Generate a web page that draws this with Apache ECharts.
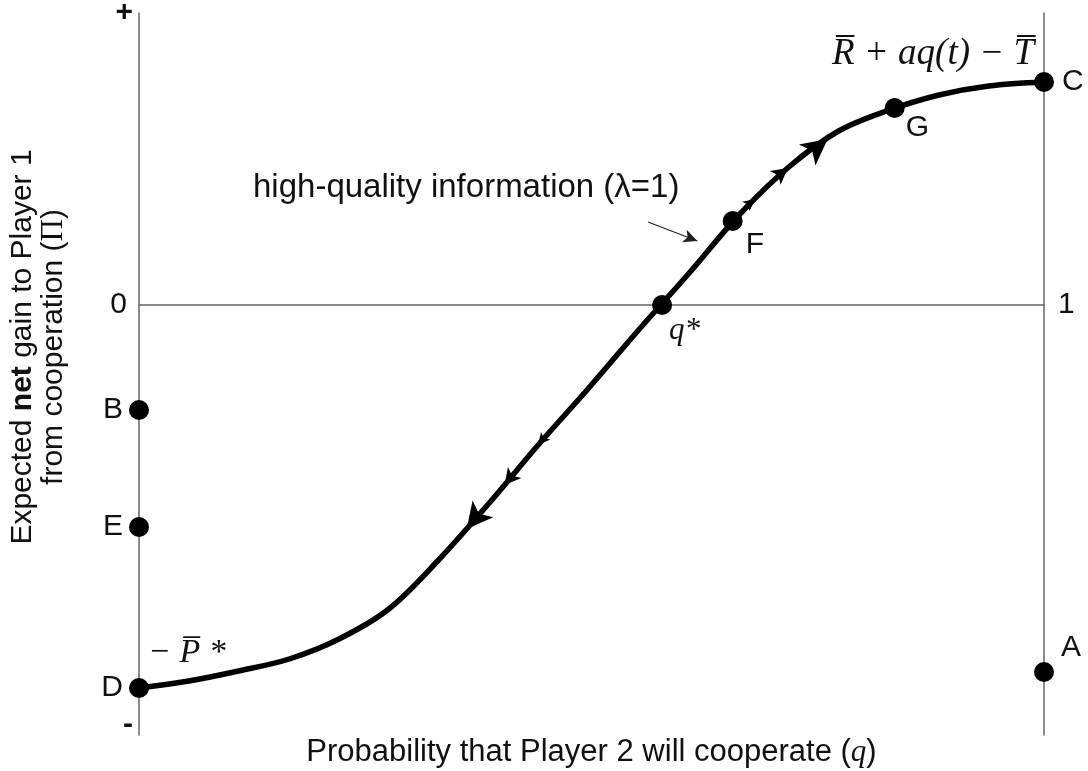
<!DOCTYPE html>
<html>
<head>
<meta charset="utf-8">
<script src="https://cdn.jsdelivr.net/npm/echarts@6/dist/echarts.min.js"></script>
<style>
  html, body { margin: 0; padding: 0; background: #fff; }
  #main { width: 1088px; height: 771px; }
</style>
</head>
<body>
<div id="main"></div>
<script>
// 曲线 (q, 净收益)
const curveQ = [0, 0.055, 0.110, 0.166, 0.221, 0.276, 0.331, 0.387, 0.442, 0.497, 0.552, 0.608, 0.663, 0.718, 0.773, 0.829, 0.884, 0.939, 1]
const curveY = [-3.83, -3.76, -3.66, -3.54, -3.34, -3.04, -2.55, -1.98, -1.39, -0.83, -0.25, 0.32, 0.90, 1.38, 1.74, 1.95, 2.10, 2.19, 2.23]

// 标记点
const pointNames = ['A', 'B', 'C', 'D', 'E', 'F', 'G', 'q*']
const pointQ = [1, 0, 1, 0, 0, 0.656, 0.835, 0.578]
const pointY = [-3.67, -1.05, 2.23, -3.83, -2.22, 0.84, 1.97, 0]

// 箭头 (位置 + 大小)
const arrowQ = [0.362, 0.404, 0.441, 0.681, 0.717, 0.761]
const arrowY = [-2.24, -1.80, -1.40, 1.06, 1.37, 1.66]
const arrowScale = [3, 2, 1, 1, 2, 3]
const arrowDown = [true, true, true, false, false, false]

const yMin = -4.3
const yMax = 2.92

const serif = '"Liberation Serif", "DejaVu Serif", serif'
const sans = '"Liberation Sans", Arial, sans-serif'

const chart = echarts.init(document.getElementById('main'))

// 点标签位置
const labelPlace = {
    'A': { position: 'right', offset: [2, -24] },
    'B': { position: 'left', distance: 6 },
    'C': { position: 'right', distance: 8 },
    'D': { position: 'left', distance: 6 },
    'E': { position: 'left', distance: 6 },
    'F': { position: 'right', offset: [-2, 24] },
    'G': { position: 'right', offset: [-4, 20] },
    'q*': { position: 'right', offset: [-8, 26], fontFamily: serif, fontStyle: 'italic', fontSize: 31 }
}

const arrowSizes = { 1: [9, 12], 2: [13, 16], 3: [20, 26] }

const option = {
    animation: false,
    grid: { left: 139, right: 44, top: 13, bottom: 36, containLabel: false, outerBoundsMode: 'none' },
    xAxis: [{
        type: 'value', min: 0, max: 1,
        axisLine: { onZero: true, lineStyle: { color: '#666', width: 1.5 } },
        axisTick: { show: false }, axisLabel: { show: false }, splitLine: { show: false }
    }, {
        type: 'value', min: 0, max: 1, position: 'bottom',
        axisLine: { show: false }, axisTick: { show: false }, axisLabel: { show: false }, splitLine: { show: false },
        name: 'Probability that Player 2 will cooperate ({i|q})',
        nameLocation: 'middle', nameGap: 2,
        nameTextStyle: {
            color: '#111', fontFamily: sans, fontSize: 31,
            rich: { i: { fontFamily: serif, fontStyle: 'italic', fontSize: 31, color: '#111' } }
        }
    }],
    yAxis: [{
        type: 'value', min: yMin, max: yMax, position: 'left',
        axisLine: { show: true, onZero: false, lineStyle: { color: '#666', width: 1.5 } },
        axisTick: { show: false }, splitLine: { show: false },
        axisLabel: {
            customValues: [-4.2, 0, 2.92], margin: 6,
            formatter: (v) => v > 1 ? '{p|+}' : (v < -1 ? '{p|-}' : '{z|0}'),
            rich: {
                p: { fontFamily: sans, fontSize: 30, fontWeight: 'bold', color: '#111', padding: [0, 0, 0, 0] },
                z: { fontFamily: sans, fontSize: 30, color: '#111', padding: [0, 6, 0, 0] }
            }
        },
        name: 'Expected {b|net} gain to Player 1\nfrom cooperation ({s|Π})',
        nameLocation: 'middle', nameRotate: 90, nameGap: 70,
        nameTextStyle: {
            color: '#111', fontFamily: sans, fontSize: 30, lineHeight: 31, align: 'center',
            padding: [0, 0, 0, 54],
            rich: {
                b: { fontWeight: 'bold', fontFamily: sans, fontSize: 30, color: '#111', lineHeight: 31 },
                s: { fontFamily: serif, fontSize: 31, color: '#111', lineHeight: 31 }
            }
        }
    }, {
        type: 'value', min: yMin, max: yMax, position: 'right',
        axisLine: { show: true, onZero: false, lineStyle: { color: '#666', width: 1.5 } },
        axisTick: { show: false }, splitLine: { show: false },
        axisLabel: {
            customValues: [0], margin: 14,
            formatter: () => '1',
            fontFamily: sans, fontSize: 30, color: '#111'
        }
    }],
    series: [{
        name: 'curve',
        type: 'line',
        smooth: 0.35,
        symbol: 'none',
        lineStyle: { color: '#000', width: 5.5 },
        data: curveQ.map((q, i) => [q, curveY[i]]),
        z: 3,
        markLine: {
            silent: true,
            symbol: ['none', 'arrow'],
            symbolSize: [10, 14],
            lineStyle: { color: '#222', width: 1.2, type: 'solid' },
            label: { show: false },
            data: [[{ coord: [0.5625, 0.83] }, { coord: [0.617, 0.64] }]]
        }
    }, {
        name: 'arrows',
        type: 'scatter',
        z: 4,
        data: arrowQ.map((q, i) => ({
            value: [q, arrowY[i]],
            symbol: 'arrow',
            symbolSize: arrowSizes[arrowScale[i]],
            symbolRotate: arrowDown[i] ? 141 : -52,
            itemStyle: { color: '#000', opacity: 1 }
        }))
    }, {
        name: 'points',
        type: 'scatter',
        symbol: 'circle',
        symbolSize: 20,
        z: 5,
        itemStyle: { color: '#000', opacity: 1 },
        data: pointNames.map((n, i) => ({
            name: n,
            value: [pointQ[i], pointY[i]],
            label: Object.assign({
                show: true, formatter: '{b}', color: '#111',
                fontFamily: sans, fontSize: 30
            }, labelPlace[n])
        }))
    }],
    graphic: [{
        type: 'text', left: 253, top: 171,
        style: { text: 'high-quality information (λ=1)', font: '33px "Liberation Sans", Arial, sans-serif', fill: '#111' }
    }, {
        type: 'text', left: 832, top: 36,
        style: { text: 'R\u0305 + aq(t) \u2212 T\u0305', font: 'italic 37px "Liberation Serif", "DejaVu Serif", serif', fill: '#111' }
    }, {
        type: 'text', left: 148, top: 636,
        style: { text: '\u2212 P\u0305 *', font: 'italic 34px "Liberation Serif", "DejaVu Serif", serif', fill: '#111' }
    }]
}

chart.setOption(option)
</script>
</body>
</html>
